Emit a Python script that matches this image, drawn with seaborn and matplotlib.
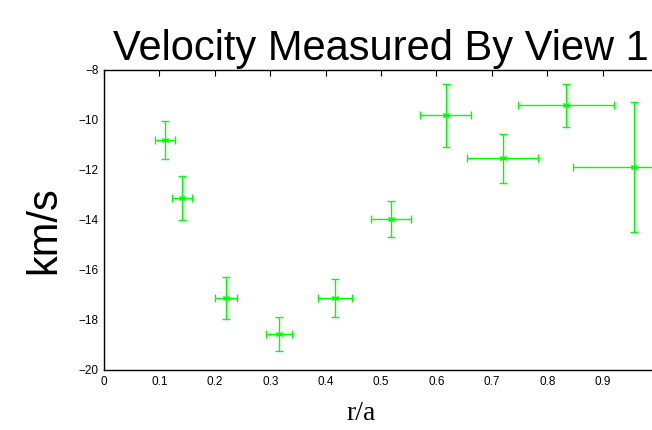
import matplotlib
matplotlib.use("Agg")
import matplotlib.pyplot as plt
import seaborn as sns
import pandas as pd

r_a = [0.110, 0.140, 0.220, 0.316, 0.417, 0.518, 0.617, 0.720, 0.834, 0.957]
velocity = [-10.81, -13.11, -17.12, -18.56, -17.12, -13.95, -9.81, -11.53, -9.41, -11.87]
vel_err = [0.76, 0.88, 0.83, 0.69, 0.76, 0.72, 1.27, 0.99, 0.87, 2.59]
r_err = [0.018, 0.018, 0.020, 0.024, 0.030, 0.036, 0.046, 0.064, 0.086, 0.110]

df = pd.DataFrame({"r/a": r_a, "v": velocity})

sns.set_style("white")
plt.rcParams['font.family'] = ['Liberation Sans', 'DejaVu Sans']
plt.rcParams['text.color'] = 'black'
plt.rcParams['axes.labelcolor'] = 'black'

fig = plt.figure(figsize=(6.52, 4.30), dpi=100)
ax = fig.add_axes([104/652, 60/430, 554/652, 300/430])

green = "#00ff00"
ax.errorbar(r_a, velocity, xerr=r_err, yerr=vel_err, fmt="none",
            ecolor=green, elinewidth=1.0, capsize=3, capthick=1.0, zorder=2)
sns.scatterplot(data=df, x="r/a", y="v", ax=ax, marker=(6, 2, 0), s=20,
                color=green, edgecolor=green, linewidth=0.8, zorder=3, legend=False)

ax.set_xlim(0, 1)
ax.set_ylim(-20, -8)
ax.set_xticks([0, 0.1, 0.2, 0.3, 0.4, 0.5, 0.6, 0.7, 0.8, 0.9])
ax.set_xticklabels(["0", "0.1", "0.2", "0.3", "0.4", "0.5", "0.6", "0.7", "0.8", "0.9"])
ax.set_yticks([-20, -18, -16, -14, -12, -10, -8])
ax.tick_params(direction="in", length=4, width=0.8, labelsize=8.5, colors="black",
               top=True, right=True, pad=4)
for s in ax.spines.values():
    s.set_color("black")
    s.set_linewidth(1.0)

ax.set_xlabel("r/a", family=["Liberation Serif", "DejaVu Serif"], fontsize=20, color="black")
ax.xaxis.set_label_coords(257/554, -31/300)
ax.set_ylabel("km/s", fontsize=30, color="black")
ax.yaxis.set_label_coords(-40/554, 0.467)
ax.set_title("Velocity Measured By View 1", fontsize=30, pad=7, color="black")

fig.savefig("out.png", dpi=100)
